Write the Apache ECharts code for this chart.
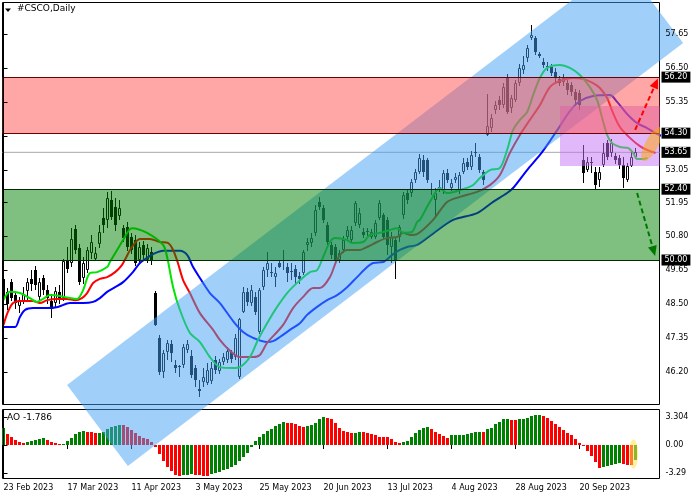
<!DOCTYPE html>
<html><head><meta charset="utf-8">
<script src="https://cdn.jsdelivr.net/npm/echarts@6/dist/echarts.min.js"></script>
<style>html,body{margin:0;padding:0;background:#fff}#c{width:700px;height:500px}</style>
</head><body><div id="c"></div>
<script>
// ---------- data ----------
const opens  = [49.35,48.90,49.25,48.80,48.45,48.60,48.95,49.35,49.65,48.75,49.40,49.00,48.60,48.55,48.90,48.70,49.95,49.90,51.05,50.40,49.40,49.66,50.25,50.05,50.55,51.42,51.35,52.05,51.80,51.50,51.08,51.12,50.78,50.68,50.00,50.50,50.00,50.27,48.88,47.36,46.20,46.88,47.15,46.45,46.37,46.45,46.95,46.75,46.35,45.62,45.86,45.83,45.90,46.61,46.25,46.55,46.60,46.88,46.70,46.05,48.25,48.91,48.55,48.75,47.56,49.08,49.66,49.55,49.42,49.90,50.00,49.76,49.62,49.70,49.45,49.56,50.50,50.58,50.90,51.97,51.76,51.19,50.51,50.44,50.00,50.34,50.78,50.68,51.25,51.19,50.95,50.95,50.78,50.78,51.42,51.53,51.36,50.44,50.68,50.78,51.53,52.27,52.27,52.70,52.98,53.39,53.39,52.40,52.03,52.45,52.37,52.95,52.45,52.71,52.37,52.98,53.32,53.15,53.62,53.49,52.98,54.24,54.47,55.08,55.42,55.25,56.17,55.15,55.42,56.00,56.44,56.85,57.53,57.53,56.98,56.71,56.56,56.54,56.37,56.14,56.03,56.00,55.93,55.69,55.66,53.40,53.05,53.30,52.98,52.71,53.22,53.97,53.63,53.52,53.46,53.22,52.71,53.19,53.49];
const highs  = [49.50,49.05,49.35,48.95,48.75,49.10,49.40,49.65,49.80,49.40,49.50,49.15,48.85,49.10,49.15,50.05,50.45,51.10,51.20,50.55,50.10,50.45,50.85,50.45,51.20,51.75,52.30,52.35,52.10,52.05,51.20,51.30,50.90,50.85,50.60,50.65,50.55,50.45,48.95,47.45,46.95,47.29,47.29,46.61,46.45,47.15,47.29,46.95,46.45,45.93,46.34,46.50,46.55,46.75,46.65,46.85,47.05,46.95,47.50,48.05,49.10,49.05,49.15,48.90,49.05,49.75,50.27,49.90,49.75,50.00,50.34,49.90,49.90,49.83,49.60,50.35,50.75,50.90,51.85,52.14,51.85,51.30,50.60,50.55,50.35,50.80,51.15,51.15,52.00,51.75,51.10,51.10,51.05,51.35,52.05,51.60,51.45,50.95,50.75,51.20,52.30,52.40,52.75,53.10,53.60,53.56,53.45,52.60,52.45,52.70,53.05,53.10,52.75,52.95,53.00,53.45,53.45,53.70,53.97,53.60,53.05,55.63,54.95,55.40,55.55,56.00,56.30,55.60,56.10,56.65,56.90,57.30,57.97,57.60,57.05,56.85,56.70,56.65,56.50,56.25,56.30,56.10,56.05,55.80,55.75,53.90,53.50,53.50,53.15,53.15,53.97,54.07,54.10,53.63,53.56,53.49,53.29,53.73,53.80];
const lows   = [48.40,48.30,48.60,48.35,48.20,48.50,48.60,48.95,49.00,48.60,48.80,48.50,48.05,48.40,48.50,48.60,49.55,49.75,50.20,49.15,49.20,49.55,50.05,49.95,50.40,50.90,51.10,51.35,51.00,51.35,50.60,50.30,50.20,49.80,49.90,50.05,49.90,49.83,47.75,46.10,46.00,46.61,46.55,46.17,46.05,46.35,46.85,46.00,45.70,45.36,45.70,45.76,45.80,46.15,46.15,46.45,46.50,46.50,46.60,45.95,48.20,48.45,48.45,48.15,47.50,49.00,49.42,49.42,49.08,49.72,49.66,49.25,49.32,49.15,49.20,49.50,50.30,50.45,50.80,51.70,51.25,50.50,50.05,49.85,49.90,50.25,50.70,50.60,51.15,51.10,50.75,50.80,50.70,50.70,51.35,50.70,50.17,49.90,49.35,50.60,51.40,51.90,52.15,52.60,52.90,52.81,52.60,52.20,51.45,52.30,52.25,52.60,52.35,52.60,52.25,52.90,53.05,53.05,53.50,52.95,52.55,54.20,54.35,54.95,55.10,55.15,54.95,55.00,55.35,55.90,56.30,56.70,57.46,56.95,56.85,56.50,56.40,56.25,56.05,55.90,55.90,55.60,55.55,55.30,55.10,52.60,52.98,52.95,52.37,52.47,53.15,53.39,53.50,53.25,53.10,52.44,52.64,53.15,53.42];
const closes = [48.70,48.50,48.70,48.55,48.65,48.85,49.25,49.20,49.15,49.25,49.00,48.70,48.35,48.95,48.65,49.95,49.70,50.70,50.35,49.25,49.90,50.34,50.60,50.25,50.95,51.20,52.10,51.45,51.20,51.75,50.75,50.45,50.34,49.90,50.45,50.17,50.40,50.00,47.80,46.20,46.85,47.19,46.85,46.35,46.40,47.05,47.15,46.10,45.93,45.56,46.03,46.27,46.34,46.27,46.55,46.70,46.90,46.65,47.35,48.00,48.91,48.57,48.98,48.25,48.98,49.66,49.90,49.58,49.55,49.76,49.95,49.56,49.58,49.42,49.35,50.27,50.60,50.75,51.69,51.80,51.36,50.61,50.17,50.00,50.24,50.68,51.02,51.02,51.93,51.59,50.85,50.97,50.95,51.25,51.93,50.78,50.51,50.78,50.00,51.12,52.20,52.03,52.64,52.98,53.46,52.98,52.71,52.37,52.27,52.47,52.95,52.71,52.61,52.81,52.88,53.29,53.15,53.56,53.66,53.05,52.71,54.54,54.81,55.25,55.25,55.86,55.02,55.49,56.00,56.51,56.61,57.19,57.63,57.05,56.92,56.61,56.54,56.34,56.17,56.00,56.17,55.76,55.69,55.42,55.25,52.95,53.32,53.33,52.54,52.98,53.63,53.49,53.97,53.39,53.22,52.78,53.19,53.49,53.65];

const aoValues = [1.97,1.26,0.98,0.59,0.35,0.28,0.39,0.51,0.59,0.71,0.83,0.55,0.35,0.24,0.12,0.14,0.47,0.87,1.30,1.54,1.61,1.54,1.52,1.38,1.46,1.57,1.89,2.09,2.24,2.36,2.32,2.17,1.77,1.42,1.06,0.79,0.67,0.35,-0.24,-1.06,-1.89,-2.56,-3.07,-3.50,-3.62,-3.55,-3.50,-3.45,-3.48,-3.55,-3.60,-3.62,-3.45,-3.30,-3.15,-3.00,-2.80,-2.60,-2.35,-1.90,-1.45,-0.95,-0.20,0.50,0.90,1.30,1.60,1.89,2.24,2.52,2.68,2.56,2.55,2.48,2.28,2.17,2.24,2.36,2.56,3.03,3.30,3.19,3.07,2.56,1.97,1.65,1.50,1.38,1.45,1.57,1.50,1.38,1.26,1.14,0.98,0.94,0.92,0.67,0.35,0.24,0.31,0.47,0.94,1.38,1.81,1.97,2.13,1.85,1.50,1.30,1.10,0.83,1.14,1.15,1.18,1.22,1.30,1.42,1.54,1.55,1.53,1.85,2.05,2.44,2.68,3.03,3.07,2.95,2.93,3.03,3.07,3.23,3.39,3.50,3.54,3.46,3.19,2.87,2.48,2.17,1.77,1.42,1.14,0.75,0.20,-0.08,-0.67,-1.30,-1.97,-2.68,-2.62,-2.52,-2.40,-2.28,-2.18,-2.24,-2.30,-2.36,-1.786];

const lips = [[0,48.64],[1.6,48.92],[4.1,48.88],[6.6,48.71],[8.4,48.58],[9.9,48.68],[11.6,48.81],[14.1,48.78],[16.6,48.71],[18.4,48.68],[19.9,48.98],[21.6,49.56],[23.4,49.59],[25.9,49.76],[26.6,49.93],[28.4,50.34],[29.9,50.68],[32.1,51.08],[35.9,50.92],[39.9,50.51],[40.9,50.10],[42.4,49.08],[44.1,48.31],[46.6,47.53],[49.1,47.22],[51.6,46.71],[54.1,46.37],[57.4,46.34],[59.1,46.37],[61.6,46.71],[63.6,47.29],[65.9,47.86],[68.4,48.41],[70.9,48.88],[73.6,49.25],[76.6,49.59],[78.4,49.66],[79.9,50.10],[81.6,50.61],[82.9,50.75],[85.9,50.68],[87.1,50.58],[89.9,50.61],[91.6,50.85],[94.1,50.92],[96.6,51.02],[98.4,51.08],[99.9,50.92],[102.1,50.95],[103.4,51.29],[104.1,51.36],[106.6,51.97],[109.1,52.44],[110.9,52.27],[114.1,52.37],[117.4,52.54],[119.1,52.78],[121.6,53.05],[124.1,53.12],[125.9,53.73],[127.4,54.41],[129.1,54.75],[130.9,55.02],[132.4,55.59],[134.1,56.17],[135.9,56.51],[139.1,56.61],[141.6,56.51],[144.1,56.27],[146.6,55.86],[148.4,55.42],[149.6,54.85],[150.9,54.24],[152.1,53.97],[154.1,53.83],[156.1,53.80],[157.4,53.63],[158.4,53.42],[159.9,53.42],[161,53.46]];
const teeth = [[0,47.80],[1.1,48.24],[2.4,48.54],[4.1,48.61],[7.4,48.61],[9.1,48.54],[10.9,48.64],[13.4,48.68],[15.9,48.68],[17.9,48.64],[19.6,48.71],[20.9,48.88],[22.4,49.22],[24.1,49.36],[25.9,49.42],[27.9,49.59],[29.6,49.83],[30.6,50.07],[32.1,50.44],[34.1,50.71],[36.6,50.71],[39.1,50.61],[41.1,50.58],[42.4,50.34],[43.6,49.90],[44.9,49.32],[46.6,48.88],[49.1,48.20],[52.4,47.63],[54.1,47.29],[55.9,47.02],[59.1,46.71],[62.4,46.71],[64.1,46.78],[65.9,47.19],[68.4,47.56],[69.9,47.80],[72.4,48.37],[74.9,48.75],[77.4,49.05],[79.1,49.05],[81.6,49.42],[83.6,50.07],[85.9,50.34],[89.1,50.34],[90.9,50.44],[93.4,50.61],[95.9,50.75],[98.4,50.78],[99.9,50.92],[101.6,50.85],[103.4,50.88],[107.4,51.36],[110.9,51.97],[114.1,52.14],[118.4,52.31],[121.6,52.54],[124.1,52.88],[126.6,53.63],[129.1,54.24],[131.6,54.75],[134.1,55.25],[136.6,55.86],[139.1,56.07],[142.4,56.17],[144.9,56.14],[147.4,56.00],[149.1,55.83],[150.9,55.49],[152.4,54.98],[154.1,54.51],[156.6,54.14],[159.1,53.86],[160.9,53.73],[163,53.63]];
const jaw = [[0,47.73],[2.9,47.73],[4.1,48.07],[5.4,48.31],[7.4,48.37],[10.9,48.37],[13.6,48.41],[16.6,48.54],[19.9,48.54],[22.4,48.58],[24.1,48.71],[25.9,48.92],[27.9,49.08],[29.9,49.25],[32.4,49.60],[34.1,49.90],[35.9,50.07],[37.4,50.20],[39.9,50.31],[44.1,50.31],[45.9,50.17],[47.4,49.76],[49.1,49.39],[51.6,48.88],[54.1,48.54],[57.4,47.93],[59.9,47.56],[62.4,47.36],[65.9,47.22],[67.4,47.25],[69.1,47.39],[71.6,47.63],[74.1,47.86],[75.9,48.14],[78.4,48.41],[80.9,48.64],[83.4,48.81],[85.9,49.08],[88.4,49.42],[90.9,49.76],[92.4,49.90],[94.9,49.93],[97.4,50.20],[99.1,50.34],[100.9,50.44],[103.4,50.51],[107.9,50.95],[112.4,51.36],[118.4,51.59],[122.4,51.97],[125.9,52.27],[127.4,52.44],[130.9,53.05],[134.1,53.56],[136.6,54.03],[139.1,54.54],[141.6,55.05],[144.1,55.39],[147.4,55.56],[151.6,55.59],[153.4,55.36],[155.9,54.95],[158.4,54.64],[160.9,54.47],[163.4,54.27],[166,54.14]];

const priceTicks = [57.65,56.50,55.35,54.20,53.05,51.95,50.80,49.65,48.50,47.35,46.20,45.10];
const levelTicks = [56.20,54.30,53.65,52.40,50.00];
const aoTicks = [3.304,0,-3.29];
const aoTickLabels = ['3.304','0.00','-3.29'];
const dateTickIdx = [0,16,32,48,64,80,96,112,128,144];
const dateTickLabels = ['23 Feb 2023','17 Mar 2023','11 Apr 2023','3 May 2023','25 May 2023','20 Jun 2023','13 Jul 2023','4 Aug 2023','28 Aug 2023','20 Sep 2023'];
const lastPrice = 53.65;
const aoLast = '-1.786';
const titleText = '#CSCO,Daily';

// annotations (bar index, price)
const redZone = [54.30, 56.20];
const greenZone = [50.00, 52.40];
const purpleZone = [139.1, 53.19, 164.0, 55.22];
const channelCorners = [[15.9,45.76],[31.1,43.02],[169.9,57.36],[154.6,60.10]];
const redArrow = [[157.9,54.41],[163.6,56.15]];
const greenArrow = [[158.4,52.27],[162.9,50.14]];
const orangeMark = [162.1,53.93];
const aoMark = [157.5,-1.06];

// ---------- chart ----------
const X_MIN = -0.25, X_MAX = 164.0;
const P_MIN = 45.102, P_MAX = 58.729;
const AO_MIN = -3.95, AO_MAX = 4.19;
const FONT = 'DejaVu Sans';

const chart = echarts.init(document.getElementById('c'), null, {renderer:'canvas'});

const candleData = opens.map((o,i)=>[i,o,highs[i],lows[i],closes[i]]);
const aoData = aoValues.map((v,i)=>[i,v]);

function candleItem(params, api){
  const i=api.value(0), o=api.value(1), h=api.value(2), l=api.value(3), c=api.value(4);
  const pH=api.coord([i,h]), pL=api.coord([i,l]), pO=api.coord([i,o]), pC=api.coord([i,c]);
  const x=pH[0];
  const yTop=Math.round(Math.min(pO[1],pC[1])), yBot=Math.round(Math.max(pO[1],pC[1]));
  const yH=Math.round(pH[1]), yL=Math.round(pL[1]);
  const ch=[];
  const st={stroke:'#000',lineWidth:1};
  if (yH<yTop) ch.push({type:'line',shape:{x1:x,y1:yH,x2:x,y2:yTop},style:st});
  if (yL>yBot) ch.push({type:'line',shape:{x1:x,y1:yBot,x2:x,y2:yL},style:st});
  if (yBot-yTop<=1) {
    ch.push({type:'line',shape:{x1:x-1.5,y1:yTop+0.5,x2:x+1.5,y2:yTop+0.5},style:st});
  } else if (c>=o) {
    ch.push({type:'rect',shape:{x:x-1,y:yTop+0.5,width:2,height:yBot-yTop-1},style:{fill:null,stroke:'#000',lineWidth:1}});
  } else {
    ch.push({type:'rect',shape:{x:x-1.5,y:yTop,width:3,height:yBot-yTop},style:{fill:'#000'}});
  }
  return {type:'group',children:ch};
}

function aoItem(params, api){
  const i=api.value(0), v=api.value(1);
  const p0=api.coord([i,0]), p1=api.coord([i,v]);
  const y0=Math.round(p0[1]), y1=Math.round(p1[1]);
  const up = i===0 ? true : aoValues[i] > aoValues[i-1];
  return {type:'rect',shape:{x:p0[0]-1.5,y:Math.min(y0,y1),width:3,height:Math.max(Math.abs(y1-y0),1)},style:{fill: up?'#008000':'#ff0000'}};
}

function ellipsePts(cx,cy,rx,ry,ang){
  const pts=[];
  for(let k=0;k<48;k++){
    const t=k/48*Math.PI*2;
    const ex=rx*Math.cos(t), ey=ry*Math.sin(t);
    pts.push([cx+ex*Math.cos(ang)-ey*Math.sin(ang), cy+ex*Math.sin(ang)+ey*Math.cos(ang)]);
  }
  return pts;
}

function arrowItem(pts,color){
  return function(params, api){
    const a=api.coord(pts[0]), b=api.coord(pts[1]);
    const dx=b[0]-a[0], dy=b[1]-a[1], len=Math.hypot(dx,dy);
    const ux=dx/len, uy=dy/len, hl=10, hw=4.5;
    const bx=b[0]-ux*hl, by=b[1]-uy*hl;
    return {type:'group',children:[
      {type:'line',shape:{x1:a[0],y1:a[1],x2:bx,y2:by},style:{stroke:color,lineWidth:2,lineDash:[5,3]}},
      {type:'polygon',shape:{points:[[b[0],b[1]],[bx-uy*hw,by+ux*hw],[bx+uy*hw,by-ux*hw]]},style:{fill:color}}
    ]};
  };
}

function zoneItem(range, fill, border){
  return function(params, api){
    const p1=api.coord([X_MIN,range[1]]), p0=api.coord([X_MAX,range[0]]);
    const yT=Math.round(p1[1])+0.5, yB=Math.round(p0[1])+0.5;
    return {type:'group',children:[
      {type:'rect',shape:{x:p1[0],y:yT,width:p0[0]-p1[0],height:yB-yT},style:{fill:fill}},
      {type:'line',shape:{x1:p1[0],y1:yT,x2:p0[0],y2:yT},style:{stroke:border,lineWidth:1}},
      {type:'line',shape:{x1:p1[0],y1:yB,x2:p0[0],y2:yB},style:{stroke:border,lineWidth:1}}
    ]};
  };
}

const axisFont = {fontFamily:FONT,fontSize:8,color:'#000'};
const one = [[0,0]];

const option = {
  animation:false,
  backgroundColor:'#fff',
  grid:[
    {left:2.5,top:2.5,width:657,height:402,show:true,borderColor:'#000',borderWidth:1,backgroundColor:'transparent'},
    {left:2.5,top:409.5,width:657,height:69,show:true,borderColor:'#000',borderWidth:1,backgroundColor:'transparent'}
  ],
  xAxis:[
    {type:'value',gridIndex:0,min:X_MIN,max:X_MAX,axisLine:{show:false},axisTick:{show:false},axisLabel:{show:false},splitLine:{show:false}},
    {type:'value',gridIndex:1,min:X_MIN,max:X_MAX,axisLine:{show:false},
     axisTick:{show:true,customValues:dateTickIdx,length:4,lineStyle:{color:'#000'}},
     axisLabel:{show:true,customValues:dateTickIdx,align:'left',margin:5,...axisFont,
       formatter:(v)=>{const k=dateTickIdx.indexOf(Math.round(v));return k>=0?dateTickLabels[k]:'';}},
     splitLine:{show:false}}
  ],
  yAxis:[
    {type:'value',gridIndex:0,position:'right',min:P_MIN,max:P_MAX,z:10,
     axisLine:{show:true,lineStyle:{color:'#000'}},
     axisTick:{show:true,customValues:priceTicks,length:4,lineStyle:{color:'#000'}},
     axisLabel:{show:true,customValues:priceTicks,margin:6,...axisFont,formatter:(v)=>v.toFixed(2)},
     splitLine:{show:false}},
    {type:'value',gridIndex:1,position:'right',min:AO_MIN,max:AO_MAX,z:10,
     axisLine:{show:true,lineStyle:{color:'#000'}},
     axisTick:{show:true,customValues:aoTicks,length:4,lineStyle:{color:'#000'}},
     axisLabel:{show:true,customValues:aoTicks,margin:6,...axisFont,
       formatter:(v)=>{let k=0,b=1e9;aoTicks.forEach((t,j)=>{if(Math.abs(t-v)<b){b=Math.abs(t-v);k=j;}});return aoTickLabels[k];}},
     splitLine:{show:false}},
    {type:'value',gridIndex:0,position:'right',min:P_MIN,max:P_MAX,z:11,
     axisLine:{show:false},axisTick:{show:false},
     axisLabel:{show:true,customValues:levelTicks,margin:2,...axisFont,color:'#fff',backgroundColor:'#000',padding:[2,3,1,3],formatter:(v)=>v.toFixed(2)},
     splitLine:{show:false}}
  ],
  series:[
    {type:'line',xAxisIndex:0,yAxisIndex:0,data:[[X_MIN,lastPrice],[X_MAX,lastPrice]],showSymbol:false,symbol:'none',lineStyle:{color:'#a8a8a8',width:1},z:1,silent:true},
    {type:'custom',xAxisIndex:0,yAxisIndex:0,data:candleData,renderItem:candleItem,z:2,clip:true,silent:true},
    {type:'line',xAxisIndex:0,yAxisIndex:0,data:jaw,symbol:'none',smooth:0.3,lineStyle:{color:'#0000ff',width:2},z:3,silent:true},
    {type:'line',xAxisIndex:0,yAxisIndex:0,data:teeth,symbol:'none',smooth:0.3,lineStyle:{color:'#ff0000',width:2},z:3,silent:true},
    {type:'line',xAxisIndex:0,yAxisIndex:0,data:lips,symbol:'none',smooth:0.3,lineStyle:{color:'#00e600',width:2},z:3,silent:true},
    {type:'custom',xAxisIndex:1,yAxisIndex:1,data:aoData,renderItem:aoItem,z:2,clip:true,silent:true},
    // blue channel
    {type:'custom',xAxisIndex:0,yAxisIndex:0,data:one,clip:false,z:4,silent:true,
     renderItem:(p,api)=>({type:'polygon',shape:{points:channelCorners.map(c=>api.coord(c))},style:{fill:'rgba(65,161,245,0.5)'}})},
    // purple box
    {type:'custom',xAxisIndex:0,yAxisIndex:0,data:one,clip:true,z:5,silent:true,
     renderItem:(p,api)=>{const a=api.coord([purpleZone[0],purpleZone[3]]),b=api.coord([purpleZone[2],purpleZone[1]]);
       return {type:'rect',shape:{x:Math.round(a[0]),y:Math.round(a[1]),width:b[0]-Math.round(a[0]),height:Math.round(b[1])-Math.round(a[1])},style:{fill:'rgba(195,113,245,0.5)'}};}},
    {type:'custom',xAxisIndex:0,yAxisIndex:0,data:one,clip:true,z:6,silent:true,renderItem:zoneItem(greenZone,'rgba(0,128,0,0.5)','#002a00')},
    {type:'custom',xAxisIndex:0,yAxisIndex:0,data:one,clip:true,z:6,silent:true,renderItem:zoneItem(redZone,'rgba(255,77,77,0.5)','#6a0000')},
    {type:'custom',xAxisIndex:0,yAxisIndex:0,data:one,clip:true,z:7,silent:true,renderItem:arrowItem(redArrow,'#ff0000')},
    {type:'custom',xAxisIndex:0,yAxisIndex:0,data:one,clip:true,z:7,silent:true,renderItem:arrowItem(greenArrow,'#007800')},
    {type:'custom',xAxisIndex:0,yAxisIndex:0,data:one,clip:true,z:8,silent:true,
     renderItem:(p,api)=>{const c=api.coord(orangeMark);return {type:'polygon',shape:{points:ellipsePts(c[0],c[1],19,6.5,-62*Math.PI/180)},style:{fill:'rgba(255,165,0,0.5)'}};}},
    {type:'custom',xAxisIndex:1,yAxisIndex:1,data:one,clip:true,z:8,silent:true,
     renderItem:(p,api)=>{const c=api.coord(aoMark);return {type:'polygon',shape:{points:ellipsePts(c[0],c[1],4.5,14.5,0)},style:{fill:'rgba(255,228,80,0.55)'}};}}
  ],
  graphic:[
    {type:'polygon',shape:{points:[[5,8.5],[11,8.5],[8,12]]},style:{fill:'#000'},z:20},
    {type:'text',left:17,top:4,style:{text:titleText,font:'9px "DejaVu Sans"',fill:'#000'},z:20},
    {type:'text',left:7,top:413,style:{text:'AO '+aoLast,font:'9px "DejaVu Sans"',fill:'#000'},z:20}
  ]
};
chart.setOption(option);
</script>
</body></html>
